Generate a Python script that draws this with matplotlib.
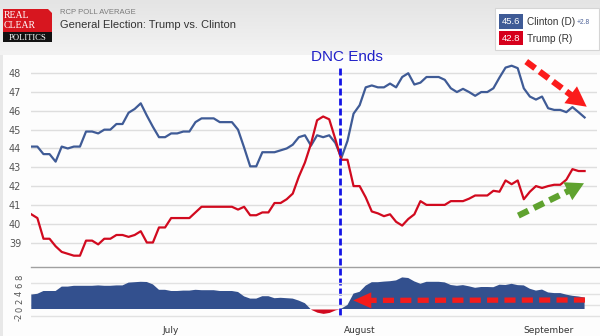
import matplotlib
matplotlib.use('Agg')
import matplotlib.pyplot as plt
import numpy as np
from matplotlib.patches import Rectangle, Polygon
from matplotlib.colors import LinearSegmentedColormap

# ---------------- data (daily, 8 Jun 2016 -> 7 Sep 2016) ----------------
clinton = [44.1, 44.1, 43.7, 43.7, 43.3, 44.1, 44.0, 44.1, 44.1, 44.9,
           44.9, 44.8, 45.0, 45.0, 45.3, 45.3, 45.9, 46.1, 46.4, 45.75,
           45.15, 44.6, 44.6, 44.8, 44.8, 44.9, 44.9, 45.4, 45.6, 45.6,
           45.6, 45.4, 45.4, 45.4, 45.0, 44.05, 43.05, 43.05, 43.8, 43.8,
           43.8, 43.9, 44.0, 44.2, 44.6, 44.7, 44.15, 44.7, 44.6, 44.7,
           44.3, 43.5, 44.4, 45.85, 46.3, 47.25, 47.35, 47.25, 47.25, 47.45,
           47.25, 47.8, 48.0, 47.4, 47.5, 47.8, 47.8, 47.8, 47.65, 47.2,
           47.0, 47.17, 47.0, 46.8, 47.0, 47.0, 47.2, 47.77, 48.3, 48.4,
           48.27, 47.2, 46.76, 46.6, 46.76, 46.14, 46.05, 46.05, 45.93, 46.2,
           45.93, 45.65]
trump = [40.5, 40.3, 39.2, 39.2, 38.8, 38.5, 38.4, 38.3, 38.3, 39.1,
         39.1, 38.9, 39.2, 39.2, 39.4, 39.4, 39.3, 39.4, 39.6, 39.0,
         39.0, 39.8, 39.8, 40.3, 40.3, 40.3, 40.3, 40.6, 40.9, 40.9,
         40.9, 40.9, 40.9, 40.9, 40.75, 40.9, 40.45, 40.45, 40.6, 40.6,
         41.1, 41.1, 41.3, 41.6, 42.5, 43.25, 44.25, 45.5, 45.7, 45.55,
         44.5, 43.4, 43.4, 42.0, 42.0, 41.4, 40.65, 40.55, 40.4, 40.5,
         40.1, 39.9, 40.25, 40.5, 41.2, 41.0, 41.0, 41.0, 41.0, 41.2,
         41.2, 41.2, 41.33, 41.5, 41.5, 41.5, 41.75, 41.7, 42.3, 42.1,
         42.3, 41.3, 41.7, 42.0, 41.9, 42.0, 42.07, 42.07, 42.34, 42.9,
         42.8, 42.8]
days = list(range(len(clinton)))
month_labels = ['July', 'August', 'September']
month_days = [23, 54, 85]
main_ticks = [39, 40, 41, 42, 43, 44, 45, 46, 47, 48]
spread_ticks = [-2, 0, 2, 4, 6, 8]
dnc_day = 50.85
legend_clinton = '45.6'
legend_trump = '42.8'
legend_spread = '+2.8'

# ---------------- styles ----------------
BLUE = '#3f5b96'
AREA_BLUE = '#33508e'
RED = '#d10a1f'
W, H = 600, 336
plt.rcParams['lines.scale_dashes'] = False

fig = plt.figure(figsize=(W / 100, H / 100), dpi=100)
fig.patch.set_facecolor('#e8e8e8')

# background / header
bg = fig.add_axes([0, 0, 1, 1], zorder=-10)
bg.set_xlim(0, W); bg.set_ylim(H, 0); bg.axis('off')
grad = np.linspace(0, 1, 64).reshape(-1, 1)
bg.imshow(grad, extent=[0, W, 55, 0], aspect='auto',
          cmap=LinearSegmentedColormap.from_list('g', ['#e4e4e4', '#f3f3f3']))
bg.add_patch(Rectangle((3, 55), W - 3, H - 55, fc='#fdfdfd', ec='none'))
bg.set_xlim(0, W); bg.set_ylim(H, 0)

# logo
bg.add_patch(Polygon([(3, 9), (48, 9), (52, 13), (52, 32), (3, 32)], closed=True,
                     fc='#d7161f', ec='none'))
bg.add_patch(Rectangle((3, 32), 49, 10, fc='#111111', ec='none'))
bg.text(4, 16, 'REAL', color='white', fontsize=7, family='Liberation Serif',
        va='center', ha='left')
bg.text(4, 25, 'CLEAR', color='white', fontsize=7, family='Liberation Serif',
        va='center', ha='left')
bg.text(27.5, 37.5, 'POLITICS', color='white', fontsize=6.2, family='Liberation Serif',
        va='center', ha='center')

bg.text(60, 13, 'RCP POLL AVERAGE', color='#7a7a7a', fontsize=5.5,
        family='Liberation Sans', va='center', ha='left')
bg.text(60, 25.5, 'General Election: Trump vs. Clinton', color='#333333', fontsize=8,
        family='Liberation Sans', va='center', ha='left')

# legend box
bg.add_patch(Rectangle((495, 8), 104, 42, fc='white', ec='#d5d5d5', lw=0.8))
bg.add_patch(Rectangle((499, 14), 24, 15, fc=BLUE, ec='none'))
bg.add_patch(Rectangle((499, 31), 24, 14, fc='#d6001c', ec='none'))
bg.text(511, 21.5, legend_clinton, color='white', fontsize=6.8, ha='center', va='center',
        family='Liberation Sans')
bg.text(511, 38.5, legend_trump, color='white', fontsize=6.8, ha='center', va='center',
        family='Liberation Sans')
bg.text(527, 22, 'Clinton (D)', color='#333333', fontsize=7.2, ha='left', va='center',
        family='Liberation Sans')
bg.text(577, 22.5, legend_spread, color='#4a5f95', fontsize=4.8, ha='left', va='center',
        family='Liberation Sans')
bg.text(527, 38.5, 'Trump (R)', color='#333333', fontsize=7.2, ha='left', va='center',
        family='Liberation Sans')

# ---------------- main axes ----------------
x_left, x_right = -0.05, 93.04
ax = fig.add_axes([31 / W, 1 - 260 / H, 566 / W, 202 / H])
ax.set_facecolor('none')
ax.set_xlim(x_left, x_right)
ax.set_ylim(38.07, 48.81)
ax.set_yticks(main_ticks)
ax.set_yticklabels([str(t) for t in main_ticks])
ax.tick_params(axis='y', length=0, pad=7, labelsize=7, labelcolor='#555555')
ax.tick_params(axis='x', length=0, labelbottom=False)
ax.grid(axis='y', color='#dedede', lw=1)
ax.set_axisbelow(True)
for s in ax.spines.values():
    s.set_visible(False)
ax.plot(days, clinton, color=BLUE, lw=1.6, solid_joinstyle='round')
ax.plot(days, trump, color=RED, lw=1.6, solid_joinstyle='round')

# ---------------- spread axes ----------------
ax2 = fig.add_axes([31 / W, 1 - 318 / H, 569 / W, 51.3 / H])
ax2.set_facecolor('none')
ax2.set_xlim(x_left, x_right + 0.5)
ax2.set_ylim(-2.25, 10.575)
spread = np.array(clinton) - np.array(trump)
ax2.fill_between(days, spread, 0, where=spread >= 0, interpolate=True,
                 color=AREA_BLUE, lw=0)
ax2.fill_between(days, spread, 0, where=spread <= 0, interpolate=True,
                 color=RED, lw=0)
ax2.set_yticks(spread_ticks)
ax2.set_yticklabels([str(t) for t in spread_ticks], rotation=90, va='center')
ax2.set_yticks([-1.68, 1.0, 3.68, 6.43], minor=True)
ax2.grid(axis='y', which='minor', color='#e2e2e2', lw=1)
ax2.set_axisbelow(True)
ax2.tick_params(axis='y', which='both', length=0, pad=5, labelsize=6,
                labelcolor='#555555')
ax2.set_xticks(month_days)
ax2.set_xticklabels(month_labels)
ax2.tick_params(axis='x', length=0, pad=6, labelsize=6.5, labelcolor='#333333')
for k, s in ax2.spines.items():
    s.set_visible(k == 'top')
ax2.spines['top'].set_color('#a0a0a0')
ax2.spines['top'].set_linewidth(1)

# DNC line
ax.axvline(dnc_day, ymin=-0.272, ymax=0.95, clip_on=False, color='#1414e6', lw=2,
           linestyle=(0, (5, 2.2)), zorder=5)
ov = fig.add_axes([0, 0, 1, 1], zorder=20)
ov.set_xlim(0, W); ov.set_ylim(H, 0); ov.axis('off'); ov.set_facecolor('none')
fig.canvas.draw()
xpx = ax.transData.transform((dnc_day, 0))[0]
ov.text(xpx + 6, 57, 'DNC Ends', color='#2020c8', fontsize=11, ha='center',
        va='center', family='Liberation Sans')


def to_px(a, pt):
    d = a.transData.transform(pt)
    return np.array([d[0], H - d[1]])


def dashed_arrow(a, tail, tip, color, lw, head_len, head_w, on, off):
    t = to_px(a, tail); p = to_px(a, tip)
    u = (p - t) / np.hypot(*(p - t))
    n = np.array([-u[1], u[0]])
    base = p - u * head_len
    ov.plot([t[0], base[0] + u[0] * 2], [t[1], base[1] + u[1] * 2], color=color, lw=lw,
            linestyle=(0, (on, off)), solid_capstyle='butt', dash_capstyle='butt')
    ov.add_patch(Polygon([p, base + n * head_w / 2, base - n * head_w / 2],
                         closed=True, fc=color, ec='none'))


dashed_arrow(ax, (81.4, 48.62), (91.35, 46.22), '#fb1b1b', 4.5, 20, 21, 8, 4)
dashed_arrow(ax, (80.1, 40.43), (90.9, 42.15), '#5fa22f', 4.5, 18, 20, 8, 4.5)
dashed_arrow(ax2, (91.07, 2.25), (52.96, 2.15), '#f41c1c', 3.8, 18, 16, 8, 4.5)

fig.savefig('out.png', dpi=100, facecolor=fig.get_facecolor())
